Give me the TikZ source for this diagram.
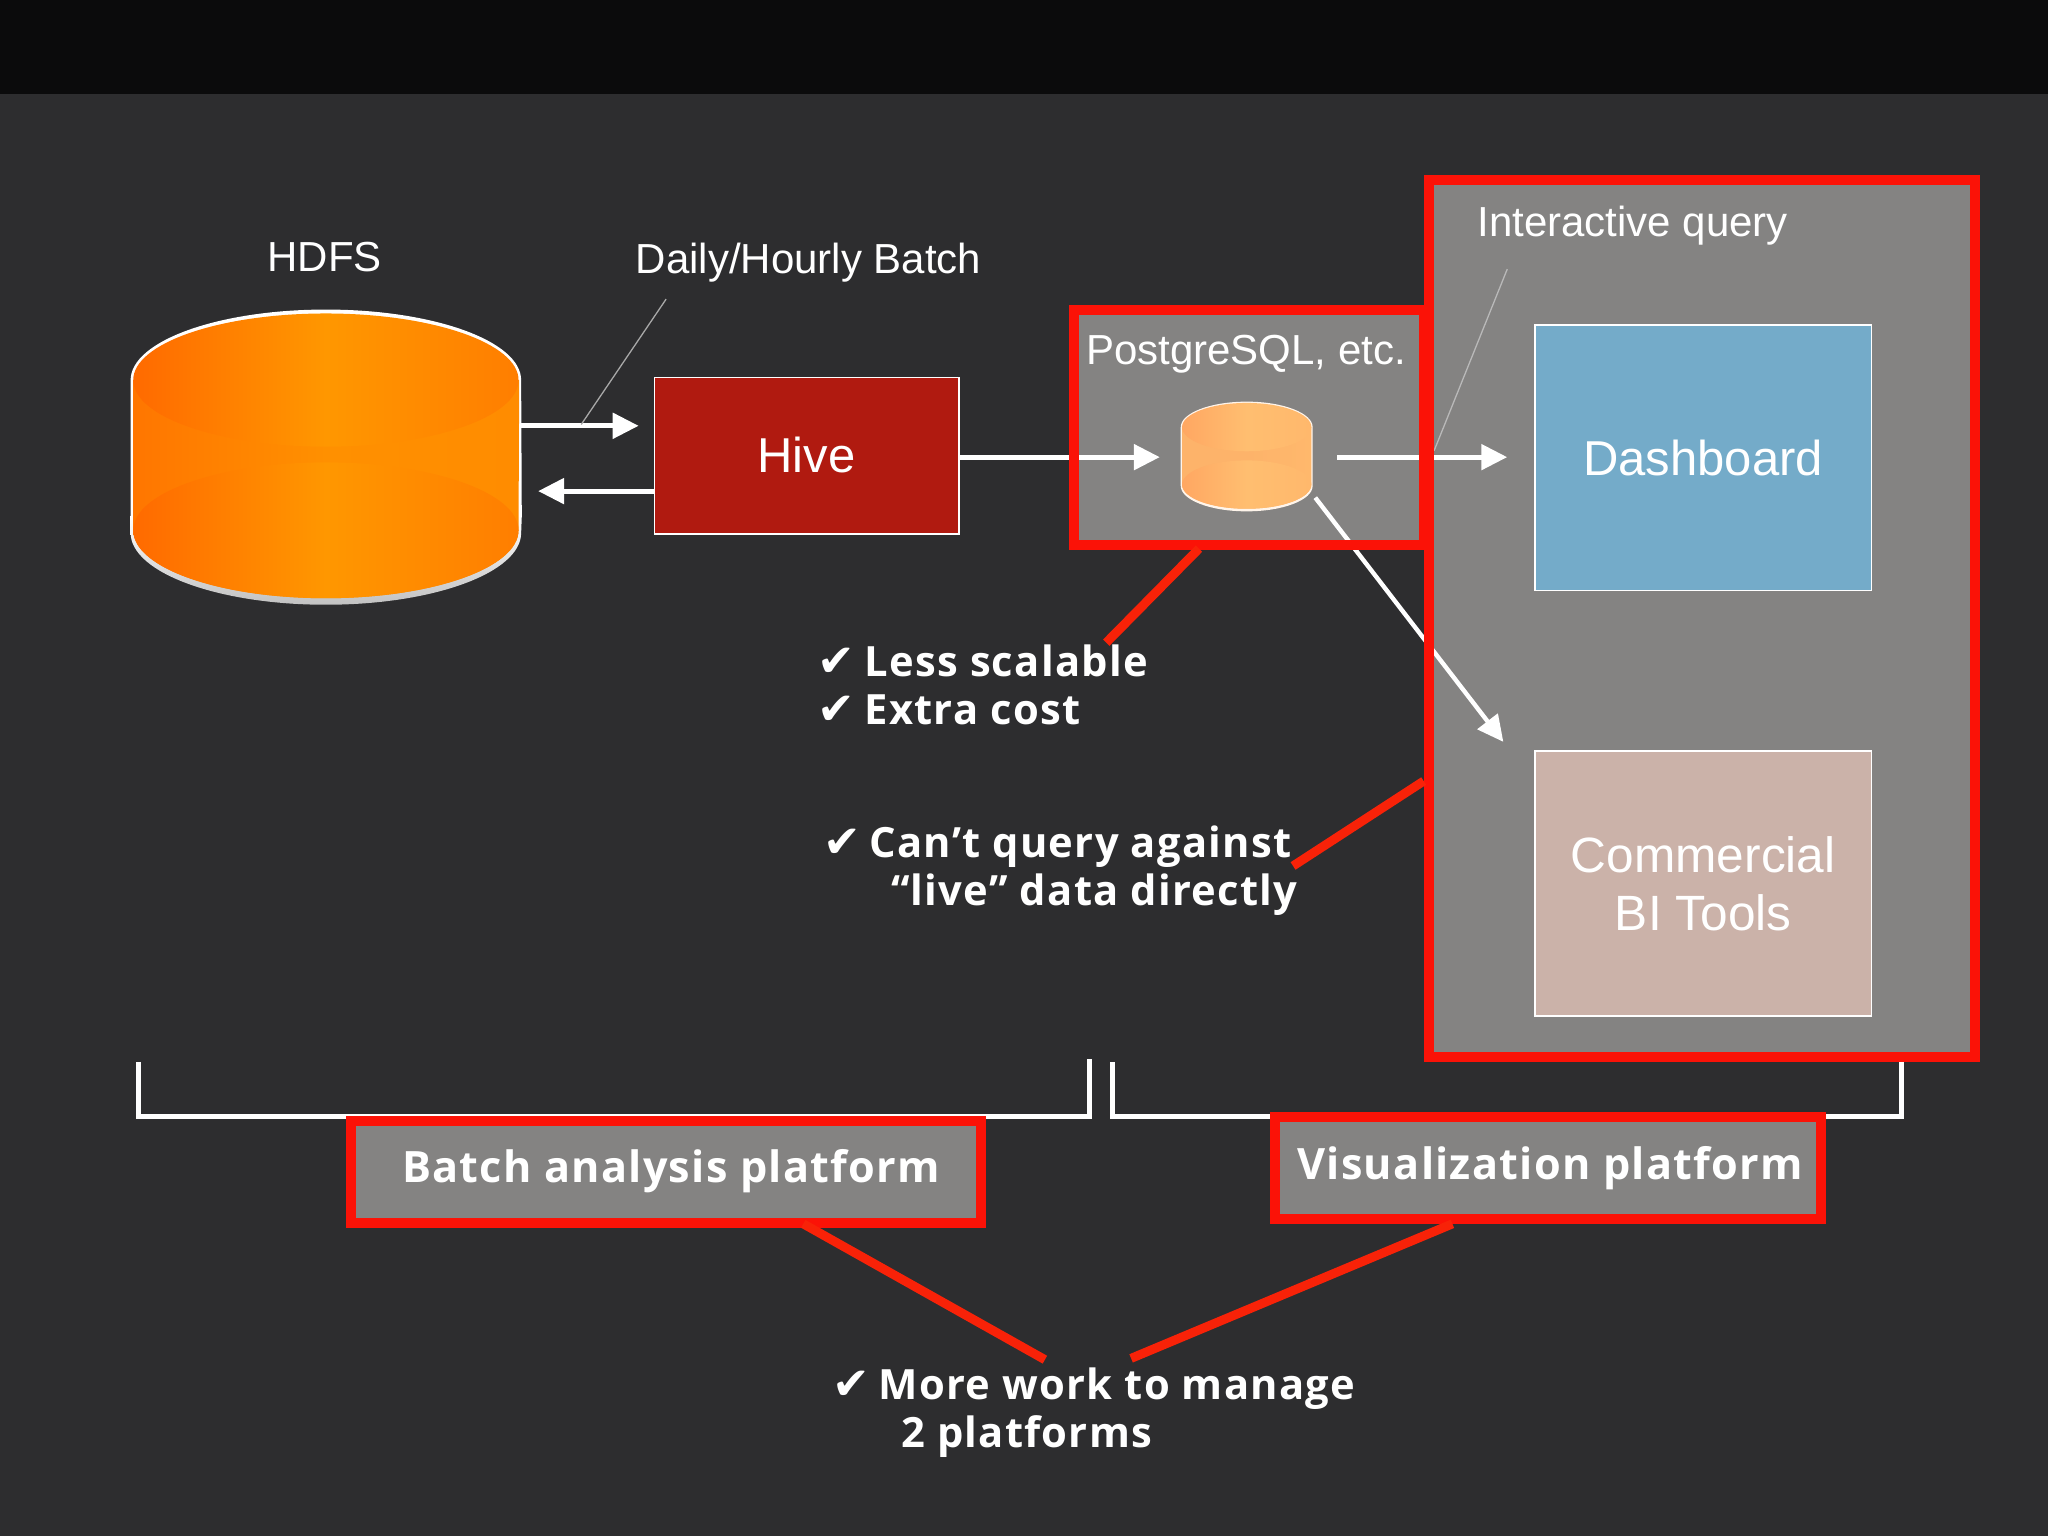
\documentclass[tikz,border=0pt]{standalone}
\usepackage{fontspec}
\setmainfont{Liberation Sans}
\newfontfamily\boldfam[LetterSpace=3]{Open Sans Bold}
\newfontfamily\chkfam{DejaVu Sans}
\usetikzlibrary{arrows.meta}
\definecolor{bgdark}{HTML}{2D2D2F}
\definecolor{barblack}{HTML}{0B0B0C}
\definecolor{panelgrey}{HTML}{848382}
\definecolor{alertred}{HTML}{FB1207}
\definecolor{calloutred}{HTML}{F82208}
\definecolor{hivered}{HTML}{B01A10}
\definecolor{dashblue}{HTML}{74ABC9}
\definecolor{bitan}{HTML}{CBB2A9}
\definecolor{hintgrey}{HTML}{A8A8A8}
\definecolor{oraL}{HTML}{FF6A00}
\definecolor{oraM}{HTML}{FF9700}
\definecolor{oraR}{HTML}{FF7E00}
\definecolor{bodyL}{HTML}{FF7600}
\definecolor{bodyM}{HTML}{FF9000}
\definecolor{bodyR}{HTML}{FF8C00}
\definecolor{paleL}{HTML}{FFA762}
\definecolor{paleM}{HTML}{FFBE70}
\definecolor{paleR}{HTML}{FFB86C}
\definecolor{paleB}{HTML}{FDB36A}
\tikzset{
  box/.style={rectangle,inner sep=0pt,outer sep=0pt},
  panel/.style={box,fill=panelgrey},
  whitebox/.style={box,draw=white,line width=1.6pt,text=white,align=center,font=\fontsize{49}{58}\selectfont},
  ghost/.style={box},
  redborder/.style={draw=alertred,line width=10pt,line join=miter},
  flow/.style={draw=white,line width=5.2pt,-{Triangle[length=26pt,width=25pt]}},
  flowthin/.style={draw=white,line width=4.4pt,-{Triangle[length=26pt,width=25pt]}},
  hint/.style={draw=hintgrey,line width=1.3pt},
  callout/.style={draw=calloutred,line width=9pt},
  bracket/.style={draw=white,line width=5pt,line join=miter},
  lightlabel/.style={text=white,font=\fontsize{42}{50}\selectfont,inner sep=0pt},
  boldlabel/.style={text=white,font=\boldfam\fontsize{41.7}{48}\selectfont,inner sep=0pt,align=left},
  platform/.style={panel,redborder,minimum height=78*1.30612pt,text=white,font=\boldfam\fontsize{43.2}{48}\selectfont},
}
\newcommand{\chk}{{\chkfam\fontsize{45}{48}\selectfont ✔}\hspace{9pt}}
\begin{document}
\begin{tikzpicture}[x=1.30612pt,y=-1.30612pt]
\useasboundingbox (0,0) rectangle (1568,1176);
\fill[bgdark] (0,0) rectangle (1568,1176);
\fill[barblack] (0,0) rectangle (1568,72);

% grey panels
\node[panel,minimum width=268*1.30612pt,minimum height=180*1.30612pt] (pg) at (956,327) {};
\node[panel,minimum width=418*1.30612pt,minimum height=671*1.30612pt] (inter) at (1303,473.5) {};

% HDFS cylinder (with y pointing down, arc angles 180 to 360 run over the top on screen)
\node[ghost,minimum width=299*1.30612pt,minimum height=226*1.30612pt] (hdfs) at (249.5,350) {};
\fill[white] (100,291) arc[start angle=180,end angle=360,x radius=149.5,y radius=54] -- (399.5,395) -- (100,395) -- cycle;
\shade[top color=white,bottom color=white!76!black] (100,408) arc[start angle=180,end angle=0,x radius=149.5,y radius=55] -- (399.5,395) -- (100,395) -- cycle;
\shade[left color=bodyL,right color=bodyR,middle color=bodyM] (102,291) -- (102,406) arc[start angle=180,end angle=0,x radius=147.5,y radius=52] -- (397.5,291) -- cycle;
\shade[left color=oraL,right color=oraR,middle color=oraM] (102,406) arc[start angle=180,end angle=-180,x radius=147.5,y radius=52] -- cycle;
\shade[left color=oraL,right color=oraR,middle color=oraM] (102,291) arc[start angle=180,end angle=-180,x radius=147.5,y radius=51] -- cycle;

% small database
\node[ghost,minimum width=100*1.30612pt,minimum height=83*1.30612pt] (pgdb) at (954,349.5) {};
\fill[white!92!orange] (904,327) arc[start angle=180,end angle=360,x radius=50.5,y radius=19.5] -- (1005,372) arc[start angle=0,end angle=180,x radius=50.5,y radius=19.5] -- cycle;
\shade[left color=paleB,right color=paleR,middle color=paleB] (905,327) -- (905,371) arc[start angle=180,end angle=0,x radius=49.5,y radius=18.5] -- (1004,327) -- cycle;
\shade[left color=paleL,right color=paleR,middle color=paleM] (905,371) arc[start angle=180,end angle=-180,x radius=49.5,y radius=18.5] -- cycle;
\shade[left color=paleL,right color=paleR,middle color=paleM] (905,327) arc[start angle=180,end angle=-180,x radius=49.5,y radius=18.5] -- cycle;

% white boxes
\node[whitebox,fill=hivered,minimum width=233*1.30612pt,minimum height=120*1.30612pt] (hive) at (617.5,349) {\raisebox{1.3pt}{Hive}};
\node[whitebox,fill=dashblue,minimum width=258*1.30612pt,minimum height=203*1.30612pt] (dash) at (1304,350.5) {Dashboard};
\node[whitebox,fill=bitan,minimum width=258*1.30612pt,minimum height=203*1.30612pt,font=\fontsize{49.6}{58.5}\selectfont] (bi) at (1304,676.5) {Commercial\\BI Tools};

% connector end points
\coordinate (hdfsout) at (399,326);
\coordinate (hivein) at (489,326);
\coordinate (hiveout) at (501,376);
\coordinate (hdfsin) at (412,376);
\coordinate (pgin) at (888,350);
\coordinate (pgout) at (1024,350);
\coordinate (dashin) at (1154,350);
\coordinate (pgdiag) at (1007,381);
\coordinate (biin) at (1151,568);
\coordinate (dailytail) at (510,229);
\coordinate (dailyhead) at (445,325);
\coordinate (intertail) at (1154,206);
\coordinate (interhead) at (1098,345);

% flow arrows
\draw[flow] (hdfsout) -- (hivein);
\draw[flow] (hiveout) -- (hdfsin);
\draw[flow] (hive.east |- pgin) -- (pgin);
\draw[flow] (pgout) -- (dashin);
\draw[flowthin] (pgdiag) -- (biin);
\draw[hint] (dailytail) -- (dailyhead);
\draw[hint,draw=hintgrey!80!white] (intertail) -- (interhead);

% red outlines
\draw[redborder] (pg.north west) rectangle (pg.south east);
\draw[redborder] (inter.north west) rectangle (inter.south east);

% brackets
\coordinate (bl1) at (106,813);
\coordinate (bl2) at (106,855);
\coordinate (bl3) at (834,855);
\coordinate (bl4) at (834,811);
\coordinate (br1) at (852,813);
\coordinate (br2) at (852,855);
\coordinate (br3) at (1456,855);
\coordinate (br4) at (1456,813);
\draw[bracket] (bl1) -- (bl2) -- (bl3) -- (bl4);
\draw[bracket] (br1) -- (br2) -- (br3) -- (br4);

% platform labels
\node[platform,minimum width=482*1.30612pt] (batch) at (510,897) {\hspace*{10pt}Batch analysis platform};
\node[platform,minimum width=418*1.30612pt] (vis) at (1185,894) {\hspace*{5pt}\raisebox{-4pt}{Visualization platform}};

% text labels
\node[lightlabel] (hdfslabel) at (248.5,197) {HDFS};
\node[lightlabel] (dailylabel) at (619,201) {Daily/Hourly Batch};
\node[lightlabel] (pglabel) at (954,271) {PostgreSQL, etc.};
\node[lightlabel] (interlabel) at (1250,173) {Interactive query};

% check lists
\node[boldlabel,anchor=base west] (less) at (626,555) {\chk Less scalable\\\chk Extra cost};
\node[boldlabel,anchor=base west] (live) at (630,693) {\chk Can’t query against\\\hspace*{68pt}“live” data directly};
\node[boldlabel,anchor=base west] (more) at (637,1108) {\chk More work to manage\\\hspace*{69pt}2 platforms};

% callouts
\coordinate (lessend) at (847,492);
\coordinate (liveend) at (990,663);
\coordinate (moreleft) at (800,1041);
\coordinate (moreright) at (866,1040);
\draw[callout] (918,420) -- (lessend);
\draw[callout] (1090,598) -- (liveend);
\draw[callout] (615,937) -- (moreleft);
\draw[callout] (1112,937) -- (moreright);
\end{tikzpicture}
\end{document}
